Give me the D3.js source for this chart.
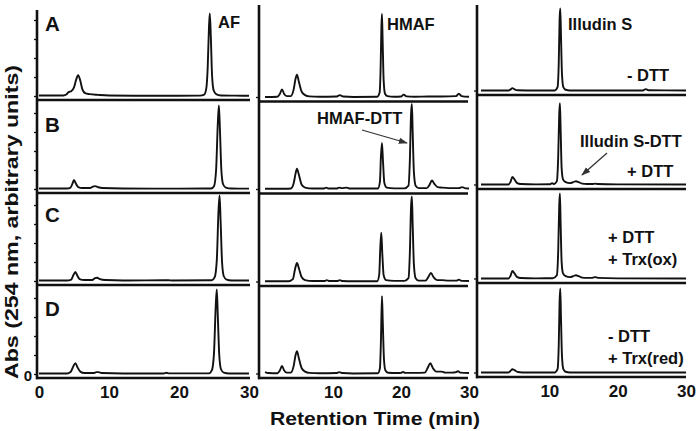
<!DOCTYPE html>
<html><head><meta charset="utf-8">
<script src="https://cdn.jsdelivr.net/npm/d3@7/dist/d3.min.js"></script>
<style>html,body{margin:0;padding:0;background:#fff;} svg{display:block;}</style>
</head><body>
<svg id="chart" width="699" height="431"></svg>
<script>
// ---------- DATA (retention time in min, absorbance in arbitrary units) ----------
const rowLetters = ["A", "B", "C", "D"];
const compoundLabels = ["AF", "HMAF", "Illudin S"];
const conditionLabels = [["- DTT"], ["+ DTT"], ["+ DTT", "+ Trx(ox)"], ["- DTT", "+ Trx(red)"]];
const adductLabels = ["HMAF-DTT", "Illudin S-DTT"];
const xTicksFirst = [0, 10, 20, 30];
const xTicksOther = [10, 20, 30];
const yTicks = [0, 20, 40, 60, 80];

const afA = [[0,0.5],[2,0.6],[3.5,0.5],[3.9,1.5],[4.2,4],[4.6,5],[5.0,9],[5.3,17],[5.6,22],[5.9,16],[6.2,7],[6.6,3],[7.2,2],[8.5,1.2],[10,0.6],[15,0.3],[20,0.3],[23,0.4],[23.6,1.5],[23.9,8],[24.1,30],[24.28,72],[24.4,87],[24.55,62],[24.72,22],[24.95,6],[25.3,2],[26,0.6],[28,0.4],[30,0.3]];
const afB = [[0,0.5],[4,0.5],[4.5,1.5],[4.8,6],[5.0,9.5],[5.25,6],[5.6,2],[6.2,1],[7.3,1],[7.7,2.5],[8.0,3],[8.4,2],[9,1],[12,0.5],[20,0.4],[24.6,0.6],[25.0,3],[25.3,20],[25.55,70],[25.7,88],[25.85,62],[26.05,20],[26.3,5],[26.7,1.5],[27.5,0.5],[30,0.4]];
const afC = [[0,0.5],[4,0.5],[4.6,1.5],[4.9,6],[5.2,9.5],[5.45,6],[5.8,2],[6.5,1],[7.6,1],[8.0,3],[8.3,3.5],[8.7,2],[9.5,1],[12,0.5],[18.5,0.8],[19,0.5],[24.7,0.8],[25.1,4],[25.4,22],[25.65,75],[25.8,90],[25.95,62],[26.15,20],[26.4,5],[26.8,1.5],[27.5,0.6],[30,0.5]];
const afD = [[0,0.5],[4,0.5],[4.5,2],[4.9,8],[5.2,11.5],[5.5,7],[5.9,2.5],[6.5,1],[7.8,1],[8.2,2],[8.5,2],[9,1],[12,0.6],[17.8,0.6],[18.2,1.3],[18.6,0.7],[24.3,0.7],[24.7,4],[25.0,22],[25.25,72],[25.4,89],[25.55,60],[25.75,20],[26.0,5],[26.4,1.5],[27.2,0.6],[30,0.5]];

const hmafA = [[0,0.5],[1.8,0.8],[2.2,4],[2.5,8.5],[2.8,4],[3.2,1.5],[3.8,1.5],[4.2,8],[4.5,20],[4.7,24],[5.0,16],[5.4,6],[5.9,2.5],[6.5,1.2],[8,0.8],[10.5,1],[11.0,2.5],[11.5,1],[13,0.6],[16.5,0.8],[16.85,5],[17.0,30],[17.12,75],[17.2,88],[17.3,60],[17.45,18],[17.65,4],[18.0,1.5],[19,0.8],[20.0,1],[20.4,3],[20.8,1.2],[22,0.8],[24,1],[26,1],[28.1,1.5],[28.5,4],[28.9,1.5],[30,0.8]];
const hmafB = [[0,0.8],[3,0.8],[3.8,1],[4.2,6],[4.5,17],[4.7,22],[5.0,15],[5.4,5],[5.9,2],[7,1],[8.7,1],[9.0,2],[9.3,1],[10.5,1],[10.9,2],[11.3,1.5],[12.0,2],[12.5,1],[16.6,1],[16.9,8],[17.05,35],[17.2,49],[17.35,30],[17.55,7],[17.9,2],[19,1.2],[20.5,1.2],[21.1,4],[21.3,30],[21.48,80],[21.6,90],[21.72,60],[21.9,18],[22.15,4],[22.6,1.5],[23.8,1.5],[24.2,5],[24.55,9.5],[24.9,6],[25.4,2.5],[26,2],[27,1.5],[28.5,1.5],[29,2.5],[29.5,1.2],[30,1]];
const hmafC = [[0,0.8],[3.5,0.8],[4.1,3],[4.4,13],[4.7,20],[5.0,14],[5.4,5],[5.9,2],[7,1],[8.8,1],[9.1,2],[9.4,1],[10.6,1],[11,2],[11.4,1],[13,0.8],[16.5,0.8],[16.8,8],[16.95,35],[17.1,52],[17.25,30],[17.45,7],[17.8,2],[19,1.2],[20.5,1.2],[21.1,4],[21.3,30],[21.48,80],[21.6,90],[21.72,60],[21.9,18],[22.15,4],[22.6,1.5],[23.6,1.5],[24.0,5],[24.4,9.5],[24.8,5],[25.3,2],[26,2],[27,1.5],[28.2,1.5],[28.5,2.5],[28.9,1.2],[30,1]];
const hmafD = [[0,2],[0.5,1],[1.8,0.8],[2.2,4],[2.5,8.5],[2.8,4],[3.2,1.5],[3.8,1.5],[4.2,8],[4.5,20],[4.7,24],[5.0,16],[5.4,6],[5.9,2.5],[6.5,1.2],[8,0.8],[10.5,1],[10.9,2],[11.4,1],[13,0.6],[16.6,0.8],[16.9,6],[17.05,35],[17.2,82],[17.32,55],[17.5,15],[17.7,4],[18.1,1.3],[19.5,1],[20.0,1.2],[20.3,2.2],[20.6,1.2],[22,1.2],[23.5,1.5],[23.9,6],[24.3,11.5],[24.7,6],[25.2,2.5],[26,2.5],[26.5,1.5],[27.5,1.5],[28.1,2],[28.4,3],[28.7,1.5],[30,1]];

const illA = [[0,0.5],[4,0.5],[4.3,1.5],[4.6,3],[4.9,1.8],[5.4,0.8],[8,0.5],[10.8,0.6],[11.2,4],[11.38,30],[11.5,75],[11.6,87],[11.7,60],[11.85,18],[12.05,4],[12.4,1.3],[13,0.6],[20,0.5],[23.7,0.6],[24.1,2],[24.5,0.8],[30,0.5]];
const illB = [[0,0.5],[4,0.5],[4.3,3],[4.6,8.5],[4.9,6],[5.3,2],[5.8,1],[8,0.7],[10.1,0.8],[10.4,1.8],[10.7,1],[11.1,4],[11.3,30],[11.45,75],[11.55,86],[11.65,60],[11.8,18],[12.0,6],[12.4,3],[13.0,2],[13.5,3],[13.9,4],[14.3,3],[14.8,1.5],[15.5,1],[16.3,1],[16.7,1.5],[17.1,1],[20,0.7],[30,0.5]];
const illC = [[0,0.5],[4,0.5],[4.3,3],[4.6,8.5],[4.9,6],[5.3,2],[5.8,1],[8,0.7],[10.5,0.8],[11.1,4],[11.3,30],[11.45,78],[11.55,90],[11.65,60],[11.8,18],[12.0,6],[12.4,3],[13.0,2],[13.5,3],[13.9,4],[14.3,3],[14.8,1.5],[15.5,1.2],[16.3,1.2],[16.7,2],[17.1,1.2],[20,0.7],[30,0.5]];
const illD = [[0,0.5],[4,0.5],[4.3,2],[4.6,4],[4.9,3],[5.4,1],[6,0.6],[10.8,0.6],[11.2,4],[11.38,30],[11.5,75],[11.6,89],[11.7,60],[11.85,18],[12.05,4],[12.4,1.3],[13,0.6],[30,0.5]];

const traces = [[afA, afB, afC, afD], [hmafA, hmafB, hmafC, hmafD], [illA, illB, illC, illD]];

// ---------- LAYOUT ----------
const FONT = "'Liberation Sans', Arial, Helvetica, sans-serif";
const INK = "#111";
const cols = [
  { t0: 39,  t30: 249, axisL: 37,  right: 250, top: 10, axisY: [100, 193, 285, 378] },
  { t0: 265, t30: 469, axisL: 259, right: 468, top: 5,  axisY: [101.5, 193.5, 286, 378] },
  { t0: 481, t30: 686, axisL: 477, right: 686, top: 5,  axisY: [95, 189, 283, 377] }
];
const letterY = [31, 132, 222, 316];

const svg = d3.select("#chart").style("font-family", FONT);

svg.append("defs").append("marker")
  .attr("id", "arrow").attr("viewBox", "0 0 10 10").attr("refX", 9).attr("refY", 5)
  .attr("markerWidth", 7).attr("markerHeight", 7).attr("orient", "auto-start-reverse")
  .append("path").attr("d", "M0,1.5 L10,5 L0,8.5 z").attr("fill", "#333");

cols.forEach((c, ci) => {
  const x = d3.scaleLinear().domain([0, 30]).range([c.t0, c.t30]);
  const g = svg.append("g");

  c.axisY.forEach((ay, ri) => {
    const base = ay - 4;
    const y = d3.scaleLinear().domain([0, 100]).range([base, base - 95]);

    if (ci === 0) {
      const ya = d3.axisLeft(y).tickValues(yTicks).tickSize(3)
        .tickFormat(d => (ri === 3 && d === 0) ? "0" : "");
      const ag = g.append("g").attr("transform", `translate(${c.axisL},0)`).call(ya);
      ag.select(".domain").remove();
      ag.selectAll(".tick line").attr("stroke", INK).attr("stroke-width", 1.3);
      ag.selectAll(".tick text").attr("font-size", 15).attr("font-weight", "bold")
        .attr("fill", INK).attr("font-family", FONT).attr("x", -5).attr("dy", "0.4em");
    } else {
      g.append("line").attr("x1", c.axisL - 3).attr("x2", c.axisL)
        .attr("y1", base).attr("y2", base).attr("stroke", INK).attr("stroke-width", 1.3);
    }

    const line = d3.line().x(d => x(d[0])).y(d => y(d[1])).curve(d3.curveMonotoneX);
    g.append("path").datum(traces[ci][ri]).attr("d", line)
      .attr("fill", "none").attr("stroke", INK).attr("stroke-width", 1.9)
      .attr("stroke-linejoin", "round");

    g.append("line").attr("x1", c.axisL - 1).attr("x2", c.right)
      .attr("y1", ay).attr("y2", ay).attr("stroke", INK).attr("stroke-width", 2.6);

    if (ri === 3) {
      const xa = d3.axisBottom(x).tickValues(ci === 0 ? xTicksFirst : xTicksOther).tickSize(0).tickPadding(8);
      const xg = g.append("g").attr("transform", `translate(0,${ay})`).call(xa);
      xg.select(".domain").remove();
      xg.selectAll(".tick text").attr("font-size", 17).attr("font-weight", "bold")
        .attr("fill", INK).attr("font-family", FONT);
    }
  });

  g.append("line").attr("x1", c.axisL).attr("x2", c.axisL)
    .attr("y1", c.top).attr("y2", c.axisY[3] + 1.3).attr("stroke", INK).attr("stroke-width", 2.6);
});

svg.selectAll("text.letter").data(rowLetters).enter().append("text")
  .attr("class", "letter").attr("x", 45).attr("y", (d, i) => letterY[i])
  .attr("font-size", 20.5).attr("font-weight", "bold").attr("fill", INK).text(d => d);

const compPos = [[218, 28], [387, 30], [568, 30]];
svg.selectAll("text.comp").data(compoundLabels).enter().append("text")
  .attr("class", "comp").attr("x", (d, i) => compPos[i][0]).attr("y", (d, i) => compPos[i][1])
  .attr("font-size", 16.5).attr("font-weight", "bold").attr("fill", INK).text(d => d);

const condPos = [[627, [81]], [627, [177]], [608, [243, 265]], [608, [342, 364]]];
conditionLabels.forEach((lines, i) => {
  lines.forEach((t, j) => {
    svg.append("text").attr("x", condPos[i][0]).attr("y", condPos[i][1][j])
      .attr("font-size", 16.5).attr("font-weight", "bold").attr("fill", INK).text(t);
  });
});

const adductPos = [[317, 124], [580, 147]];
const arrows = [[362, 130, 407, 143], [607, 153, 582, 175]];
adductLabels.forEach((t, i) => {
  svg.append("text").attr("x", adductPos[i][0]).attr("y", adductPos[i][1])
    .attr("font-size", 16.5).attr("font-weight", "bold").attr("fill", INK).text(t);
  const a = arrows[i];
  svg.append("line").attr("x1", a[0]).attr("y1", a[1]).attr("x2", a[2]).attr("y2", a[3])
    .attr("stroke", "#333").attr("stroke-width", 1.3).attr("marker-end", "url(#arrow)");
});

svg.append("text").attr("x", 375).attr("y", 425).attr("text-anchor", "middle")
  .attr("font-size", 19).attr("font-weight", "bold").attr("fill", INK)
  .attr("textLength", 210).attr("lengthAdjust", "spacingAndGlyphs")
  .text("Retention Time (min)");
svg.append("text").attr("transform", "translate(18,222) rotate(-90)").attr("text-anchor", "middle")
  .attr("font-size", 18.5).attr("font-weight", "bold").attr("fill", INK)
  .attr("textLength", 314).attr("lengthAdjust", "spacingAndGlyphs")
  .text("Abs (254 nm, arbitrary units)");
</script>
</body></html>
